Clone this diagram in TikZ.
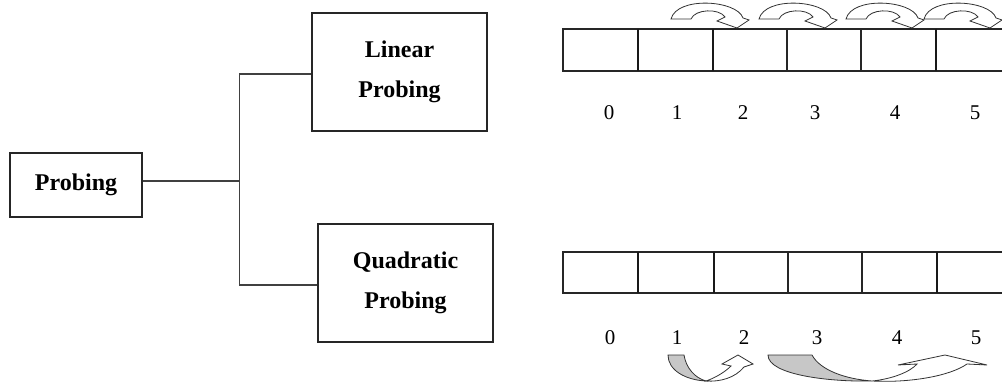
\documentclass[tikz,border=0pt]{standalone}
\usepackage{fontspec}
\setmainfont{Liberation Serif}
\begin{document}
\begin{tikzpicture}[x=1pt,y=-1pt,
  box/.style={draw=black!85, line width=1.1pt, fill=white, inner sep=0pt, align=center, font=\fontsize{24}{40}\selectfont\bfseries},
  conn/.style={draw=black!75, line width=1.3pt},
  cell/.style={draw=black!85, line width=1.1pt},
  thickcell/.style={draw=black!90, line width=1.6pt},
  idx/.style={font=\fontsize{21}{21}\selectfont, inner sep=0pt},
  topcurve/.style={draw=black!80, fill=white, line width=0.8pt},
  grayband/.style={draw=black!80, fill=black!22, line width=0.8pt},
  whiteband/.style={draw=black!80, fill=white, line width=0.8pt}]
\useasboundingbox (0,0) rectangle (1002,382);

% boxes
\node[box, minimum width=132pt, minimum height=64pt] (P) at (76,185) {\raisebox{-3pt}{Probing}};
\node[box, minimum width=175pt, minimum height=118pt] (L) at (399.5,72) {Linear\\Probing};
\node[box, minimum width=175pt, minimum height=118pt] (Q) at (405.5,283) {Quadratic\\Probing};

% connectors
\coordinate (J) at (239.5,181);
\coordinate (JT) at (239.5,74);
\coordinate (JB) at (239.5,285);
\draw[conn] ([yshift=4pt]P.east) -- (J);
\draw[conn] ([yshift=-2pt]L.west) -- (JT) -- (J) -- (JB) -- ([yshift=-2pt]Q.west);

% top array
\draw[cell] (1004,29) -- (563,29) -- (563,71) -- (1004,71);
\foreach \x in {787,861} \draw[cell] (\x,29) -- (\x,71);
\foreach \x in {638,713,936} \draw[thickcell] (\x,29) -- (\x,71);

% bottom array
\draw[cell] (1004,252) -- (563,252) -- (563,293) -- (1004,293);
\foreach \x in {788,862} \draw[cell] (\x,252) -- (\x,293);
\foreach \x in {638,714,937} \draw[thickcell] (\x,252) -- (\x,293);

% indices
\foreach \n/\x in {0/609,1/677,2/743,3/815,4/895,5/975}
  \node[idx] (t\n) at (\x,113) {\n};
\foreach \n/\x in {0/610,1/677,2/744,3/817,4/897,5/976}
  \node[idx] (b\n) at (\x,338) {\n};

% top curved arrows (linear probing)
\foreach \t in {737,825,912,990}{
  \begin{scope}[shift={(\t,28)}]
    \draw[topcurve] (-66,-9) -- (-46,-9) .. controls (-42,-19) and (-18,-20) .. (-12,-11)
      -- (-20,-7) -- (0,0) -- (12,-8) -- (6,-10)
      .. controls (0,-28) and (-60,-32) .. (-66,-9) -- cycle;
  \end{scope}
}

% bottom curved arrows (quadratic probing)
\draw[grayband] (668,355) -- (684,355) .. controls (686,368) and (695,378) .. (706,381)
  .. controls (685,380) and (668,370) .. (668,355) -- cycle;
\draw[whiteband] (706,381) .. controls (715,378) and (725,372) .. (731,366)
  -- (722,364) -- (738,355) -- (753,364) -- (744,367)
  .. controls (735,378) and (720,382) .. (706,381) -- cycle;

\draw[grayband] (768,355) -- (812,355) .. controls (820,370) and (845,379) .. (872,381)
  .. controls (830,382) and (768,375) .. (768,355) -- cycle;
\draw[whiteband] (872,381) .. controls (892,379) and (910,372) .. (917,364)
  -- (898,365) -- (945,355) -- (987,365) -- (967,364)
  .. controls (950,376) and (910,383) .. (872,381) -- cycle;
\end{tikzpicture}
\end{document}
